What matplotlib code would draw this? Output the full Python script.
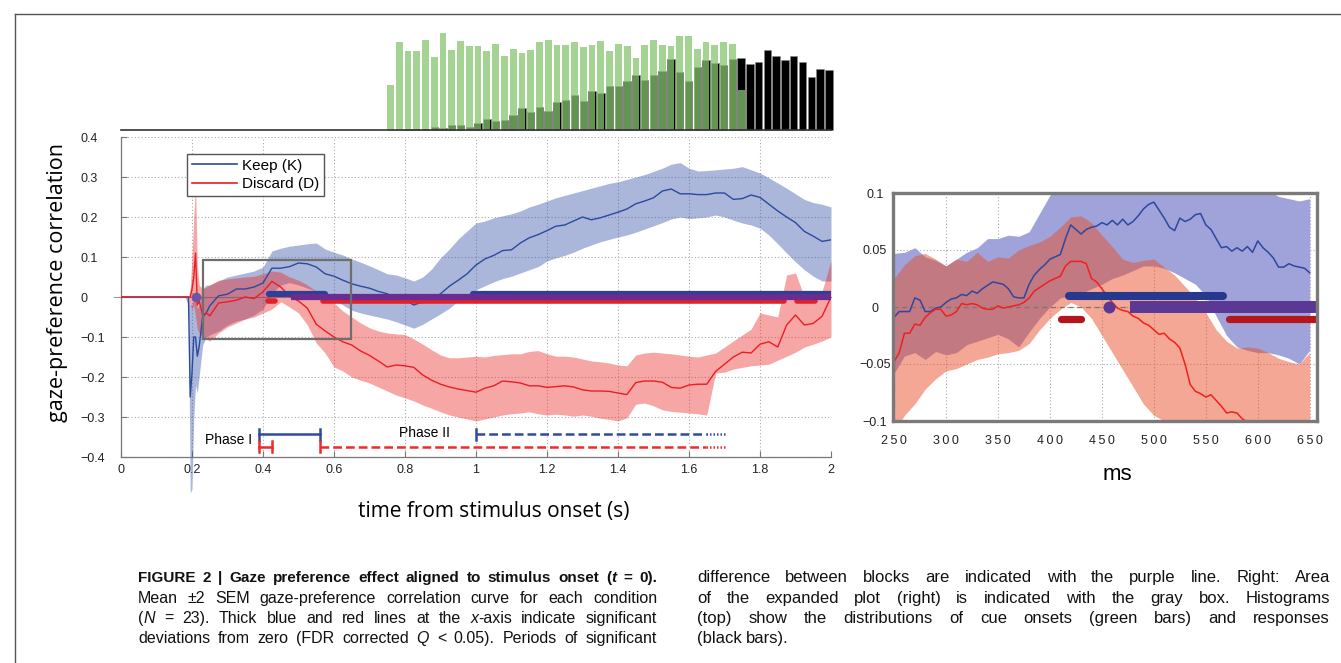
import numpy as np
import matplotlib
matplotlib.use('Agg')
import matplotlib.pyplot as plt
from matplotlib.lines import Line2D
from matplotlib.patches import Rectangle

plt.rcParams['font.family'] = ['Liberation Sans', 'DejaVu Sans']

W, H = 1341, 663

# ---------------- main panel data (time in s) ----------------
t_early = [0, 0.18, 0.19, 0.195, 0.2, 0.205, 0.21, 0.215, 0.22, 0.23, 0.24]
t_main = np.concatenate([t_early, np.arange(0.25, 2.0001, 0.025)])

keep_mean = [
    0, 0, 0, -0.25, -0.19, -0.1, -0.1, -0.148, -0.125, -0.05, -0.04,
    -0.022, 0.003, 0.007, 0.02, 0.02, 0.025, 0.035, 0.072, 0.072, 0.076,
    0.085, 0.083, 0.075, 0.058, 0.052, 0.042, 0.033, 0.027, 0.022, 0.014,
    0.008, -0.003, -0.008, -0.02, -0.012, -0.005, 0.008, 0.027, 0.042, 0.058,
    0.08, 0.095, 0.104, 0.116, 0.118, 0.135, 0.148, 0.156, 0.166, 0.177,
    0.18, 0.19, 0.2, 0.193, 0.198, 0.205, 0.212, 0.22, 0.233, 0.24,
    0.248, 0.265, 0.27, 0.258, 0.258, 0.256, 0.256, 0.26, 0.26, 0.244,
    0.246, 0.255, 0.249, 0.232, 0.215, 0.2, 0.186, 0.164, 0.152, 0.139,
    0.143]
keep_lo = [
    0, 0, -0.02, -0.49, -0.48, -0.3, -0.22, -0.24, -0.2, -0.12, -0.1,
    -0.095, -0.085, -0.07, -0.06, -0.055, -0.045, -0.03, 0.01, 0.03, 0.036,
    0.03, 0.022, 0.015, 0.0, -0.008, -0.02, -0.033, -0.04, -0.045, -0.05,
    -0.055, -0.062, -0.07, -0.078, -0.068, -0.055, -0.042, -0.028, -0.01, 0.005,
    0.018, 0.028, 0.038, 0.046, 0.052, 0.06, 0.068, 0.076, 0.09, 0.098,
    0.104, 0.112, 0.122, 0.13, 0.138, 0.144, 0.15, 0.155, 0.162, 0.17,
    0.178, 0.186, 0.195, 0.2, 0.196, 0.198, 0.2, 0.205, 0.2, 0.192,
    0.185, 0.18, 0.172, 0.155, 0.133, 0.11, 0.088, 0.068, 0.052, 0.04,
    0.04]
keep_hi = [
    0, 0, 0, -0.02, -0.02, 0.0, 0.0, -0.03, -0.02, 0.02, 0.03,
    0.03, 0.04, 0.05, 0.055, 0.06, 0.065, 0.075, 0.115, 0.122, 0.127,
    0.13, 0.133, 0.135, 0.12, 0.112, 0.105, 0.095, 0.087, 0.078, 0.068,
    0.058, 0.055, 0.048, 0.04, 0.05, 0.07, 0.098, 0.12, 0.145, 0.165,
    0.185, 0.19, 0.198, 0.203, 0.208, 0.215, 0.225, 0.232, 0.24, 0.248,
    0.254, 0.26, 0.266, 0.272, 0.278, 0.284, 0.288, 0.294, 0.3, 0.306,
    0.314, 0.322, 0.332, 0.336, 0.322, 0.315, 0.316, 0.318, 0.32, 0.322,
    0.326, 0.318, 0.31, 0.298, 0.285, 0.272, 0.258, 0.244, 0.236, 0.232,
    0.225]
discard_mean = [
    0, 0, 0, 0.0, 0.02, 0.05, 0.11, -0.02, -0.01, -0.045, -0.04,
    -0.047, -0.015, -0.012, -0.008, 0.0, -0.004, 0.013, 0.039, 0.025, 0.002,
    -0.01, -0.028, -0.068, -0.085, -0.1, -0.112, -0.12, -0.135, -0.146, -0.16,
    -0.175, -0.17, -0.172, -0.176, -0.195, -0.208, -0.218, -0.225, -0.23, -0.234,
    -0.238, -0.228, -0.222, -0.21, -0.212, -0.215, -0.222, -0.222, -0.226, -0.224,
    -0.222, -0.225, -0.232, -0.235, -0.235, -0.236, -0.24, -0.244, -0.214, -0.21,
    -0.21, -0.213, -0.226, -0.228, -0.22, -0.218, -0.218, -0.186, -0.168, -0.15,
    -0.138, -0.14, -0.118, -0.112, -0.125, -0.07, -0.045, -0.07, -0.066, -0.048,
    0.0]
discard_lo = [
    0, 0, 0, -0.02, -0.03, -0.02, -0.05, -0.08, -0.09, -0.1, -0.105,
    -0.11, -0.09, -0.075, -0.065, -0.055, -0.05, -0.04, -0.03, -0.012, -0.025,
    -0.04, -0.07, -0.115, -0.14, -0.175, -0.185, -0.2, -0.208, -0.215, -0.225,
    -0.235, -0.245, -0.252, -0.26, -0.27, -0.278, -0.287, -0.295, -0.3, -0.305,
    -0.31, -0.305, -0.3, -0.295, -0.292, -0.29, -0.287, -0.292, -0.295, -0.293,
    -0.295, -0.298, -0.295, -0.298, -0.303, -0.306, -0.31, -0.302, -0.268, -0.265,
    -0.272, -0.282, -0.286, -0.288, -0.29, -0.292, -0.295, -0.19, -0.188, -0.18,
    -0.176, -0.172, -0.17, -0.168, -0.158, -0.148, -0.138, -0.125, -0.118, -0.11,
    -0.1]
discard_hi = [
    0, 0, 0, 0.02, 0.1, 0.2, 0.28, 0.08, 0.03, 0.02, 0.025,
    0.03, 0.042, 0.045, 0.048, 0.05, 0.052, 0.058, 0.065, 0.062, 0.05,
    0.042, 0.03, 0.015, 0.0, -0.015, -0.035, -0.05, -0.065, -0.077, -0.085,
    -0.09, -0.092, -0.094, -0.105, -0.118, -0.132, -0.145, -0.152, -0.152, -0.15,
    -0.148, -0.15, -0.146, -0.144, -0.142, -0.142, -0.136, -0.134, -0.142, -0.148,
    -0.148, -0.15, -0.155, -0.16, -0.162, -0.165, -0.17, -0.172, -0.145, -0.14,
    -0.138, -0.14, -0.142, -0.145, -0.148, -0.15, -0.145, -0.14, -0.125, -0.11,
    -0.095, -0.08, -0.04, -0.045, -0.05, 0.055, 0.06, 0.0, 0.005, 0.015,
    0.09]

# significant periods (s)
keep_sig = [(0.418, 0.574), (0.992, 2.0)]
discard_sig = [(0.414, 0.434), (0.569, 1.868), (1.905, 1.955)]
diff_sig = [(0.48, 2.0)]
diff_dot = 0.212

# phase brackets (s)
phase1_keep = (0.39, 0.56)
phase1_discard = (0.39, 0.425)
phase2_keep = (1.0, 1.707)
phase2_discard = (0.56, 1.707)
zoom_box = (0.232, 0.649, -0.105, 0.093)

x_ticks = [0, 0.2, 0.4, 0.6, 0.8, 1.0, 1.2, 1.4, 1.6, 1.8, 2.0]
x_labels = ['0', '0.2', '0.4', '0.6', '0.8', '1', '1.2', '1.4', '1.6', '1.8', '2']
y_ticks = [-0.4, -0.3, -0.2, -0.1, 0, 0.1, 0.2, 0.3, 0.4]
y_labels = ['\u22120.4', '\u22120.3', '\u22120.2', '\u22120.1', '0', '0.1', '0.2', '0.3', '0.4']

# ---------------- histograms ----------------
hist_t0 = 0.7465
hist_dt = 0.0247
cue_counts = [135, 262, 235, 235, 270, 218, 290, 240, 265, 250,
              252, 237, 258, 220, 242, 230, 238, 262, 270, 255,
              254, 263, 247, 254, 265, 236, 258, 250, 215, 255,
              268, 254, 252, 282, 282, 243, 262, 253, 263, 257,
              120]
resp_counts = [0, 0, 4, 2, 2, 8, 5, 14, 16, 10,
               21, 34, 28, 30, 46, 66, 53, 69, 58, 85,
               91, 104, 87, 116, 110, 132, 132, 147, 163, 150,
               163, 176, 212, 174, 147, 189, 208, 200, 194, 212,
               215, 198, 203, 238, 222, 210, 220, 202, 158, 182, 179]

# ---------------- inset data (ms) ----------------
ms_line = np.arange(250, 651, 5)
ms_band = np.arange(250, 651, 10)
in_keep = [
    -0.009, -0.004, -0.004, -0.004, 0.008, 0.006, -0.004, -0.004, -0.001, 0.0,
    0.004, 0.007, 0.008, 0.011, 0.01, 0.014, 0.012, 0.016, 0.019, 0.022,
    0.021, 0.02, 0.016, 0.009, 0.008, 0.008, 0.02, 0.028, 0.033, 0.037,
    0.042, 0.044, 0.046, 0.06, 0.072, 0.068, 0.064, 0.068, 0.07, 0.071,
    0.074, 0.072, 0.076, 0.072, 0.077, 0.072, 0.075, 0.08, 0.086, 0.09,
    0.092, 0.085, 0.078, 0.07, 0.067, 0.078, 0.075, 0.077, 0.081, 0.082,
    0.072, 0.068, 0.06, 0.052, 0.053, 0.049, 0.052, 0.049, 0.053, 0.048,
    0.058, 0.052, 0.048, 0.043, 0.035, 0.035, 0.038, 0.036, 0.035, 0.034,
    0.03]
in_discard = [
    -0.048, -0.04, -0.023, -0.023, -0.015, -0.016, -0.009, -0.005, -0.002, -0.002,
    -0.008, -0.007, -0.004, 0.003, 0.002, 0.003, 0.002, -0.001, -0.002, -0.002,
    0.001, -0.001, 0.0, 0.001, 0.002, 0.004, 0.008, 0.014, 0.017, 0.02,
    0.023, 0.025, 0.027, 0.036, 0.04, 0.04, 0.04, 0.038, 0.025, 0.022,
    0.016, 0.01, 0.004, -0.001, -0.003, -0.004, -0.008, -0.01, -0.014, -0.016,
    -0.02, -0.024, -0.023, -0.028, -0.031, -0.036, -0.05, -0.068, -0.074, -0.076,
    -0.079, -0.077, -0.082, -0.087, -0.093, -0.092, -0.093, -0.098, -0.101, -0.104,
    -0.108, -0.11, -0.113, -0.115, -0.118, -0.121, -0.124, -0.127, -0.13, -0.132,
    -0.135]
in_keep_hi = [0.047, 0.048, 0.052, 0.044, 0.041, 0.036, 0.042, 0.048, 0.052, 0.06,
              0.06, 0.063, 0.062, 0.066, 0.082, 0.098, 0.112, 0.125, 0.13, 0.13,
              0.128, 0.13, 0.13, 0.13, 0.13, 0.13, 0.128, 0.125, 0.125, 0.122,
              0.12, 0.12, 0.118, 0.115, 0.112, 0.11, 0.102, 0.097, 0.095, 0.093,
              0.095]
in_keep_lo = [-0.058, -0.043, -0.04, -0.046, -0.039, -0.042, -0.04, -0.033, -0.03, -0.027,
              -0.024, -0.028, -0.035, -0.022, -0.01, 0.0, 0.008, 0.01, 0.012, 0.016,
              0.02, 0.025, 0.028, 0.032, 0.036, 0.036, 0.034, 0.03, 0.025, 0.02,
              0.01, -0.008, -0.025, -0.035, -0.038, -0.04, -0.04, -0.042, -0.045, -0.05,
              -0.038]
in_discard_hi = [0.025, 0.037, 0.045, 0.047, 0.042, 0.036, 0.042, 0.04, 0.048, 0.04,
                 0.044, 0.043, 0.05, 0.054, 0.057, 0.062, 0.07, 0.079, 0.08, 0.074,
                 0.063, 0.053, 0.042, 0.039, 0.041, 0.042, 0.035, 0.028, 0.018, 0.008,
                 -0.005, -0.02, -0.03, -0.036, -0.035, -0.036, -0.04, -0.045, -0.048, -0.05,
                 -0.04]
in_discard_lo = [-0.11, -0.095, -0.085, -0.072, -0.063, -0.056, -0.054, -0.05, -0.046, -0.044,
                 -0.041, -0.04, -0.038, -0.032, -0.02, -0.01, -0.002, 0.004, 0.0, -0.01,
                 -0.025, -0.04, -0.055, -0.07, -0.085, -0.095, -0.1, -0.105, -0.115, -0.12,
                 -0.12, -0.12, -0.12, -0.12, -0.12, -0.12, -0.12, -0.12, -0.12, -0.12,
                 -0.12]
in_keep_sig = [(418, 567)]
in_discard_sig = [(411, 430), (572, 656)]
in_diff_sig = [(477, 656)]
in_diff_dot = 457

caption_left = [
    "FIGURE 2 | Gaze preference effect aligned to stimulus onset (*t* = 0).",
    "Mean \u00b12 SEM gaze-preference correlation curve for each condition",
    "(*N* = 23). Thick blue and red lines at the *x*-axis indicate significant",
    "deviations from zero (FDR corrected *Q* < 0.05). Periods of significant",
]
caption_right = [
    "difference between blocks are indicated with the purple line. Right: Area",
    "of the expanded plot (right) is indicated with the gray box. Histograms",
    "(top) show the distributions of cue onsets (green bars) and responses",
    "(black bars).",
]

BLUE = '#2b4a9e'
RED = '#ec1c24'

fig = plt.figure(figsize=(W / 100, H / 100), dpi=100)


def px(x0, y0, x1, y1):
    return [x0 / W, 1 - y1 / H, (x1 - x0) / W, (y1 - y0) / H]


ax = fig.add_axes(px(121, 137, 831, 457))
ax_h = fig.add_axes(px(121, 33, 831, 130))
ax_in = fig.add_axes(px(893, 193, 1317, 421))

# ---- main panel ----
ax.plot([-0.02, 2.0], [0, 0], color='#999999', lw=0.8, clip_on=False, zorder=1)
ax.fill_between(t_main, keep_lo, keep_hi, color=(0.17, 0.30, 0.65), alpha=0.4,
                lw=0, clip_on=False, zorder=2)
ax.fill_between(t_main, discard_lo, discard_hi, color=(0.93, 0.13, 0.13),
                alpha=0.4, lw=0, zorder=2)
ax.plot(t_main, keep_mean, color=BLUE, lw=1.0, zorder=3)
ax.plot(t_main, discard_mean, color=RED, lw=1.0, zorder=3)

for a, b in discard_sig:
    ax.plot([a, b], [-0.011, -0.011], color='#e3202a', lw=4, solid_capstyle='round', zorder=5)
for a, b in keep_sig:
    ax.plot([a, b], [0.0075, 0.0075], color='#2d3f96', lw=4.5, solid_capstyle='round', zorder=5)
for a, b in diff_sig:
    ax.plot([a, b], [0, 0], color='#6a2c91', lw=4.5, solid_capstyle='butt', zorder=6)
ax.plot(diff_dot, 0, 'o', ms=7, color='#6b55a8', mec='none', zorder=6)

x0, x1, y0, y1 = zoom_box
ax.add_patch(Rectangle((x0, y0), x1 - x0, y1 - y0, fill=False, ec='#6e6e6e',
                       lw=1.6, zorder=7))


def bracket(seg, y, color, style, caps):
    a, b = seg
    if style == 'solid':
        ax.plot([a, b], [y, y], color=color, lw=1.8, zorder=4)
    else:
        ax.plot([a, b - 0.06], [y, y], color=color, lw=1.8, dashes=(3.5, 1.6), zorder=4)
        ax.plot([b - 0.06, b], [y, y], color=color, lw=1.8, dashes=(0.6, 0.8), zorder=4)
    for c in caps:
        ax.plot([c, c], [y - 0.014, y + 0.014], color=color, lw=1.8, zorder=4)


bracket(phase1_keep, -0.343, '#2f4aa6', 'solid', phase1_keep)
bracket(phase1_discard, -0.374, '#ee2b2b', 'solid', phase1_discard)
bracket(phase2_keep, -0.343, '#2f4aa6', 'dashed', [phase2_keep[0]])
bracket(phase2_discard, -0.374, '#ee2b2b', 'dashed', [phase2_discard[0]])
ax.text(0.304, -0.357, 'Phase I', ha='center', va='center', fontsize=10)
ax.text(0.856, -0.341, 'Phase II', ha='center', va='center', fontsize=10)

ax.set_xlim(0, 2)
ax.set_ylim(-0.4, 0.4)
ax.set_xticks(x_ticks)
ax.set_xticklabels(x_labels)
ax.set_yticks(y_ticks)
ax.set_yticklabels(y_labels)
for s in ['top', 'right']:
    ax.spines[s].set_visible(False)
for s in ['left', 'bottom']:
    ax.spines[s].set_color('#777777')
    ax.spines[s].set_linewidth(0.9)
ax.grid(True, ls=(0, (1, 2)), color='#aaaaaa', lw=0.8)
ax.set_axisbelow(True)
ax.tick_params(direction='in', length=4, color='#777777', labelsize=9, labelcolor='#222222')
ax.tick_params(axis='y', pad=29)
ax.tick_params(axis='x', pad=5)
for lab in ax.get_yticklabels():
    lab.set_ha('left')

leg = ax.legend([Line2D([], [], color=BLUE, lw=1.2), Line2D([], [], color=RED, lw=1.2)],
                ['Keep (K)', 'Discard (D)'], loc='upper left',
                bbox_to_anchor=(0.093, 0.947), frameon=True, fancybox=False,
                edgecolor='#555555', framealpha=1, borderpad=0.3, handlelength=3.0,
                handletextpad=0.3, labelspacing=0.3, borderaxespad=0, fontsize=11)
leg.get_frame().set_linewidth(1.0)
leg.set_zorder(10)

# ---- histograms ----
centers = hist_t0 + hist_dt * (np.arange(len(resp_counts)) + 0.5)
ax_h.bar(centers, resp_counts, width=0.021, color='black', edgecolor='#888888',
         lw=0.4, clip_on=False)
ax_h.bar(centers[:len(cue_counts)], cue_counts, width=0.019, color='#86c56f',
         alpha=0.75, lw=0, clip_on=False)
ax_h.axhline(0, color='#333333', lw=1.2, clip_on=False)
ax_h.set_xlim(0, 2)
ax_h.set_ylim(0, 290)
ax_h.axis('off')

# ---- inset ----
ax_in.fill_between(ms_band, in_keep_lo, in_keep_hi, color='#9fa3d9', lw=0, zorder=1)
ax_in.fill_between(ms_band, in_discard_lo, in_discard_hi, color='#e8502a', alpha=0.5,
                   lw=0, zorder=2)
ax_in.axhline(0, color='#777777', lw=0.9, ls=(0, (4, 3)), zorder=3)
ax_in.plot(ms_line, in_keep, color='#2f47a0', lw=1.1, zorder=4)
ax_in.plot(ms_line, in_discard, color='#f02020', lw=1.1, zorder=4)
for a, b in in_keep_sig:
    ax_in.plot([a, b], [0.0095, 0.0095], color='#26398f', lw=5.8, solid_capstyle='round', zorder=5)
for a, b in in_discard_sig:
    ax_in.plot([a, b], [-0.0108, -0.0108], color='#b4161c', lw=5.2, solid_capstyle='round', zorder=5)
for a, b in in_diff_sig:
    ax_in.plot([a, b], [0, 0], color='#5b3893', lw=8.6, solid_capstyle='butt', zorder=6)
ax_in.plot(in_diff_dot, 0, 'o', ms=8.6, color='#5b3893', mec='none', zorder=6)

ax_in.set_xlim(249, 657)
ax_in.set_ylim(-0.1, 0.1)
in_xt = list(range(250, 651, 50))
ax_in.set_xticks(in_xt)
ax_in.set_xticklabels(['\u2009'.join(str(v)) for v in in_xt])
ax_in.set_yticks([-0.1, -0.05, 0, 0.05, 0.1])
ax_in.set_yticklabels(['\u22120.1', '\u22120.05', '0', '0.05', '0.1'])
ax_in.grid(True, ls=(0, (1, 2)), color='#aaaaaa', lw=0.8)
ax_in.set_axisbelow(True)
for s in ax_in.spines.values():
    s.set_color('#7a7a7a')
    s.set_linewidth(2.4)
    s.set_zorder(8)
ax_in.tick_params(length=0, labelsize=9, labelcolor='#222222')
ax_in.tick_params(axis='y', pad=13)
ax_in.tick_params(axis='x', pad=10)
for lab in ax_in.get_yticklabels():
    lab.set_ha('center')

# ---- labels ----
fig.text(58 / W, 1 - 283 / H, 'gaze-preference correlation', rotation=90, ha='center',
         va='center', fontsize=15.5, family=['Open Sans', 'DejaVu Sans'])
fig.text(494 / W, 1 - 512 / H, 'time from stimulus onset (s)', ha='center', va='center',
         fontsize=15, family=['Open Sans', 'DejaVu Sans'])
fig.text(1117 / W, 1 - 474 / H, 'ms', ha='center', va='center', fontsize=16)

# frame
fig.add_artist(Line2D([15 / W, 15 / W], [0, 1 - 14 / H], color='#555555', lw=1))
fig.add_artist(Line2D([15 / W, 1], [1 - 14 / H, 1 - 14 / H], color='#555555', lw=1))

# ---- caption (justified) ----
renderer = fig.canvas.get_renderer()


def caption_line(xa, xb, y, line, size, bold=False, justify=True):
    words = []
    for word in line.split(' '):
        parts = []
        for i, piece in enumerate(word.split('*')):
            if piece:
                t = fig.text(0, 1 - y / H, piece, fontsize=size, va='baseline',
                             fontweight='bold' if bold else 'normal',
                             style='italic' if i % 2 else 'normal', color='#111111')
                parts.append((t, t.get_window_extent(renderer).width))
        words.append(parts)
    widths = [sum(w for _, w in p) for p in words]
    gap = (xb - xa - sum(widths)) / (len(words) - 1) if justify else size * 0.38
    x = xa
    for p, wd in zip(words, widths):
        for t, w in p:
            t.set_x(x / W)
            x += w
        x += gap


rows_y = [582, 603, 623, 643]
for i, (line, y) in enumerate(zip(caption_left, rows_y)):
    caption_line(138, 657, y, line, 11 if i == 0 else 11.5, bold=(i == 0))
for i, (line, y) in enumerate(zip(caption_right, rows_y)):
    caption_line(697, 1330, y, line, 12, justify=(i < 3))

fig.savefig('out.png', dpi=100)
